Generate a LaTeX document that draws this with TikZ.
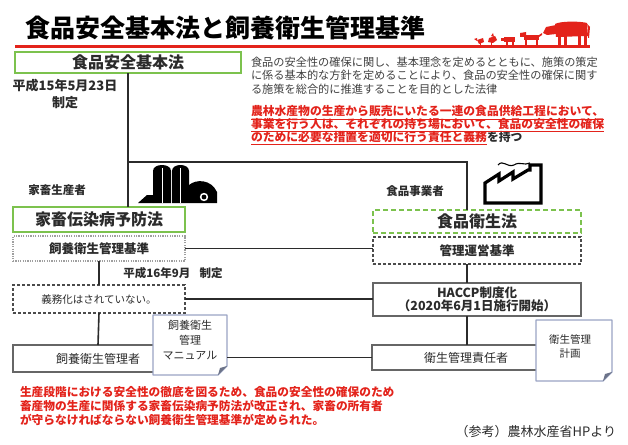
\documentclass[tikz,border=0pt]{standalone}
\usepackage{fontspec}
\setmainfont{Noto Sans CJK JP}
\usetikzlibrary{calc}
\definecolor{lawgreen}{HTML}{7CC24E}
\definecolor{alertred}{HTML}{E3231B}
\definecolor{ink}{HTML}{2B2B2B}
\definecolor{docedge}{HTML}{9AA4C4}
\newcommand\fsz[1]{\fontsize{#1}{#1}\selectfont}

\begin{document}
\begin{tikzpicture}[x=1pt,y=-1pt,
  every node/.style={inner sep=0pt, outer sep=0pt, text=ink},
  conn/.style={draw=ink, line width=1.6pt},
  greenbox/.style={draw=lawgreen, line width=1.4pt, fill=white},
  greendash/.style={draw=lawgreen, line width=1.4pt, dash pattern=on 5pt off 3pt, fill=white},
  dotbox/.style={draw=gray!75, line width=1.3pt, dash pattern=on 1.2pt off 1.2pt, fill=white},
  dashbox/.style={draw=ink!85, line width=1.4pt, dash pattern=on 3pt off 2pt, fill=white},
  plainbox/.style={draw=gray!80!black, line width=1.1pt, fill=white},
  lawtext/.style={font=\fsz{16}\bfseries},
  stdtext/.style={font=\fsz{12.5}\bfseries},
  smallbold/.style={font=\fsz{11}\bfseries},
  desc/.style={anchor=west, font=\fsz{11.2}, text=ink!90},
  redline/.style={anchor=west, font=\fsz{11.8}\bfseries, text=alertred},
  sheet/.style={fill=white, draw=docedge, line width=1.2pt, line join=round},
  sheetfold/.style={fill=docedge!70!black},
  underrule/.style={draw=alertred, line width=0.9pt}
]
\useasboundingbox (0,0) rectangle (628,444);

% ---- heading ----
\node[anchor=west, font=\fsz{25}\bfseries, text=black] (title) at (25,28) {食品安全基本法と飼養衛生管理基準};
\coordinate (ruleL) at (15,47);
\coordinate (ruleR) at (590,47);
\draw[alertred, line width=3pt] (ruleL) -- (ruleR);

% livestock silhouettes on the rule
\begin{scope}[alertred]
  % cow
  \fill (555,24) .. controls (560,21) and (580,21) .. (587,23) -- (588,36) -- (556,37) -- cycle;
  \fill (556,25) -- (546,27) -- (543,33) -- (547,35) -- (556,34) -- cycle;
  \fill (558,35) rectangle (561,46);
  \fill (564,35) rectangle (567,46);
  \fill (578,35) rectangle (581,46);
  \fill (584,35) rectangle (587,46);
  \fill (587,24) -- (590,27) -- (589,38) -- (588,38) -- (588,28) -- cycle;
  % calf / dog
  \fill (524,35) rectangle (539,40);
  \fill (520,33) -- (526,32) -- (526,37) -- (520,37) -- cycle;
  \fill (525,39) rectangle (527,46);
  \fill (536,39) rectangle (538,46);
  \fill (539,35) -- (542,33) -- (542,35) -- (539,37) -- cycle;
  % pig
  \fill (504,37) rectangle (515,42);
  \fill (501,38) rectangle (505,41);
  \fill (506,41) rectangle (508,46);
  \fill (512,41) rectangle (514,46);
  % chickens
  \fill (489,38) -- (495,36) -- (497,40) -- (493,43) -- (488,42) -- cycle;
  \fill (491,36) -- (493,33) -- (494,37) -- cycle;
  \fill (491,42) rectangle (492,46);
  \fill (477,40) -- (483,38) -- (484,42) -- (479,44) -- cycle;
  \fill (474,39) -- (477,38) -- (477,41) -- cycle;
  \fill (480,43) rectangle (481,46);
\end{scope}

% ---- basic law ----
\node[greenbox, minimum width=226pt, minimum height=21pt, lawtext] (basic) at (128,62.5) {食品安全基本法};
\node[align=center, font=\fontsize{13}{17}\selectfont\bfseries] (enact15) at (65,93.5) {平成15年5月23日\\制定};

\node[desc] (desc1) at (251,62) {食品の安全性の確保に関し、基本理念を定めるとともに、施策の策定};
\node[desc] (desc2) at (251,75.5) {に係る基本的な方針を定めることにより、食品の安全性の確保に関す};
\node[desc] (desc3) at (251,89.5) {る施策を総合的に推進することを目的とした法律};

\node[redline] (duty1) at (251,111.5) {農林水産物の生産から販売にいたる一連の食品供給工程において、};
\node[redline] (duty2) at (251,124) {事業を行う人は、それぞれの持ち場において、食品の安全性の確保};
\node[redline] (duty3) at (251,137) {のために必要な措置を適切に行う責任と義務};
\node[anchor=west, font=\fsz{11.8}\bfseries, text=ink] (duty3b) at (duty3.east) {を持つ};
\foreach \n in {duty1,duty2,duty3}
  \draw[underrule] ($(\n.south west)+(0,1.8)$) -- ($(\n.south east)+(0,1.8)$);

% ---- branch junctions ----
\coordinate (jL) at (128,162);
\coordinate (jR) at (467,162);

% ---- producer side ----
\node[font=\fsz{11.5}\bfseries] (producer) at (57,190) {家畜生産者};
\node[greenbox, minimum width=172pt, minimum height=25pt, lawtext] (lawL) at (99,219.5) {家畜伝染病予防法};
\node[dotbox, minimum width=172pt, minimum height=25pt, stdtext] (stdL) at (99,248.5) {飼養衛生管理基準};
\node[font=\fsz{11.5}\bfseries] (enact16) at (173,273) {平成16年9月\hspace{0.8em}制定};
\node[dashbox, minimum width=172pt, minimum height=28pt, font=\fsz{10.5}] (dutyL) at (99,299) {義務化はされていない。};
\node[plainbox, minimum width=170pt, minimum height=27pt, font=\fsz{12}] (keeperL) at (98,358.5) {飼養衛生管理者};

% ---- business side ----
\node[font=\fsz{11.5}\bfseries] (business) at (415,191) {食品事業者};
\node[greendash, minimum width=208pt, minimum height=23pt, lawtext] (lawR) at (477,221.5) {食品衛生法};
\node[dashbox, minimum width=208pt, minimum height=27pt, stdtext] (stdR) at (477,250.5) {管理運営基準};
\node[plainbox, minimum width=208pt, minimum height=33pt, align=center, font=\fontsize{12.5}{13.5}\selectfont\bfseries] (haccp) at (477,299.5) {HACCP制度化\\（2020年6月1日施行開始）};
\node[plainbox, minimum width=188pt, minimum height=25pt, font=\fsz{12}] (keeperR) at (466,357.5) {衛生管理責任者};

% ---- connectors ----
\draw[conn] (basic.south -| jL) -- (jL) -- (jR) -- (lawR.north -| jR);
\draw[conn] (jL) -- (lawL.north -| jL);
\draw[conn] (stdL.east) -- (stdL.east -| stdR.west);
\draw[conn] (dutyL.east) -- (dutyL.east -| haccp.west);
\draw[conn] (stdL.south -| dutyL.north) -- (dutyL.north);
\draw[conn] (dutyL.south) -- (keeperL.north);
\draw[conn] (stdR.south -| jR) -- (haccp.north -| jR);
\draw[conn] (haccp.south -| jR) -- (keeperR.north -| jR);

% ---- document sheets ----
\node[minimum width=74pt, minimum height=60pt] (manual) at (190,345) {};
\filldraw[sheet] (manual.north west) -- (manual.north east) -- ($(manual.south east)+(0,-9)$)
  -- ($(manual.south east)+(-9,0)$) -- (manual.south west) -- cycle;
\fill[sheetfold] ($(manual.south east)+(0,-9)$) -- ($(manual.south east)+(-9,0)$) -- ($(manual.south east)+(-7,-7)$) -- cycle;
\node[align=center, font=\fontsize{11}{15}\selectfont] (manualtext) at (190,340) {飼養衛生\\管理\\マニュアル};

\node[minimum width=76pt, minimum height=61pt] (plan) at (574,350.5) {};
\filldraw[sheet] (plan.north west) -- (plan.north east) -- ($(plan.south east)+(0,-9)$)
  -- ($(plan.south east)+(-9,0)$) -- (plan.south west) -- cycle;
\fill[sheetfold] ($(plan.south east)+(0,-9)$) -- ($(plan.south east)+(-9,0)$) -- ($(plan.south east)+(-7,-7)$) -- cycle;
\node[align=center, font=\fontsize{10.5}{14}\selectfont] (plantext) at (570,346.5) {衛生管理\\計画};

\draw[conn] (manual.east |- keeperR.west) -- (keeperR.west);

% ---- farm icon ----
\begin{scope}[black]
  \fill (138,203) -- (147,195) -- (153,195) -- (153,203) -- cycle;
  \fill (153,203) -- (153,171) .. controls (153,163) and (171,163) .. (171,171) -- (171,203) -- cycle;
  \fill (172,203) -- (172,171) .. controls (172,163) and (189,163) .. (189,171) -- (189,203) -- cycle;
  \fill (189,203) -- (189,185) .. controls (196,179) and (211,179) .. (217,192) -- (217,203) -- cycle;
  \draw[white, line width=0.6pt] (162,168) -- (162,203);
  \draw[white, line width=0.6pt] (180,168) -- (180,203);
  \fill[white] (204,197) circle (4.2);
  \fill (204,197) circle (2.4);
\end{scope}

% ---- factory icon ----
\draw[black, line width=3.2pt, line join=miter] (485,203) -- (485,183) -- (499,174) -- (499,181)
  -- (513,172) -- (513,179) -- (528,170) -- (530,170) -- (530,165) -- (541,165) -- (541,203) -- cycle;
\draw[black, line width=1.1pt] (498,165) .. controls (503,159) and (507,168) .. (514,165)
  .. controls (520,161) and (524,166) .. (530,163);

% ---- closing notes ----
\node[redline, font=\fsz{11.7}\bfseries] (note1) at (20,392) {生産段階における安全性の徹底を図るため、食品の安全性の確保のため};
\node[redline, font=\fsz{11.7}\bfseries] (note2) at (20,406) {畜産物の生産に関係する家畜伝染病予防法が改正され、家畜の所有者};
\node[redline, font=\fsz{11.7}\bfseries] (note3) at (20,420) {が守らなければならない飼養衛生管理基準が定められた。};
\node[anchor=east, font=\fsz{13}] (source) at (616,432) {（参考）農林水産省HPより};
\end{tikzpicture}
\end{document}
